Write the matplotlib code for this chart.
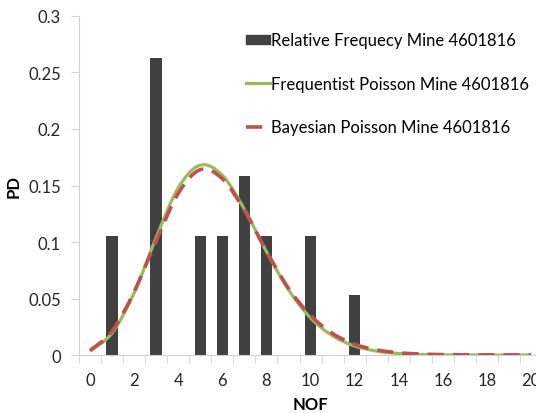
import numpy as np
import matplotlib.pyplot as plt
from matplotlib.path import Path
from matplotlib.patches import PathPatch
from matplotlib.lines import Line2D
from matplotlib.patches import Patch

plt.rcParams['font.family'] = ['Lato', 'DejaVu Sans']

# observed relative frequency
bar_x = [1, 3, 5, 6, 7, 8, 10, 12]
bar_y = [0.105, 0.263, 0.105, 0.105, 0.158, 0.105, 0.105, 0.053]

# fitted curves, read at NOF = 0..20
nof = list(range(21))
freq_pd = [0.0035, 0.0195, 0.055, 0.104, 0.148, 0.168, 0.159, 0.129, 0.0915,
           0.0578, 0.0328, 0.017, 0.008, 0.0035, 0.0014, 0.0005, 0.0002,
           0.0001, 0.0, 0.0, 0.0]
bayes_pd = [0.004, 0.021, 0.056, 0.101, 0.143, 0.164, 0.156, 0.128, 0.092,
            0.059, 0.035, 0.019, 0.0095, 0.0045, 0.002, 0.0009, 0.0004,
            0.0002, 0.0001, 0.0001, 0.0001]


def smooth_path(x, y):
    # excel-style smoothed line: cubic bezier through the points
    x = np.asarray(x, float)
    y = np.asarray(y, float)
    verts = [(x[0], y[0])]
    codes = [Path.MOVETO]
    n = len(x)
    for i in range(n - 1):
        p0 = np.array([x[max(i - 1, 0)], y[max(i - 1, 0)]])
        p1 = np.array([x[i], y[i]])
        p2 = np.array([x[i + 1], y[i + 1]])
        p3 = np.array([x[min(i + 2, n - 1)], y[min(i + 2, n - 1)]])
        c1 = p1 + (p2 - p0) / 6
        c2 = p2 - (p3 - p1) / 6
        verts += [tuple(c1), tuple(c2), tuple(p2)]
        codes += [Path.CURVE4] * 3
    return Path(verts, codes)


fig = plt.figure(figsize=(5.36, 4.14), dpi=100)
ax = fig.add_axes([0.1474, 0.140, 0.864, 0.819])

bar_col = '#404040'
green = '#9BBB59'
red = '#C0504D'

ax.bar(bar_x, bar_y, width=0.52, color=bar_col, zorder=2)

ax.add_patch(PathPatch(smooth_path(nof, freq_pd), fill=False, edgecolor=green,
                       lw=2.3, zorder=3))
ax.add_patch(PathPatch(smooth_path(nof, bayes_pd), fill=False, edgecolor=red,
                       lw=2.6, linestyle=(0, (4.5, 2.5)), zorder=4))

ax.set_xlim(-0.5, 20.5)
ax.set_ylim(0, 0.3)
ax.set_xticks(range(0, 21, 2))
ax.set_xticks(np.arange(-0.5, 20.6, 1), minor=True)
ax.set_yticks([0, 0.05, 0.1, 0.15, 0.2, 0.25, 0.3])
ax.set_yticklabels(['0', '0.05', '0.1', '0.15', '0.2', '0.25', '0.3'])
ax.tick_params(axis='x', which='major', length=0, labelsize=12, pad=12, colors='#262626')
ax.tick_params(axis='x', which='minor', length=6, color='#d0d0d0')
ax.tick_params(axis='y', length=6, color='#d0d0d0', labelsize=12, pad=7,
               labelcolor='#262626')

for s in ['top', 'right']:
    ax.spines[s].set_visible(False)
for s in ['left', 'bottom']:
    ax.spines[s].set_color('#d0d0d0')

ax.set_xlabel('NOF', fontsize=12, fontweight='bold', labelpad=6)
ax.set_ylabel('PD', fontsize=12, fontweight='bold', labelpad=5)

handles = [Patch(facecolor=bar_col, edgecolor=bar_col),
           Line2D([], [], color=green, lw=2.3),
           Line2D([], [], color=red, lw=2.6, linestyle=(0, (4.5, 2.5)))]
labels = ['Relative Frequecy Mine 4601816',
          'Frequentist Poisson Mine 4601816',
          'Bayesian Poisson Mine 4601816']
fig.legend(handles, labels, loc='upper left', bbox_to_anchor=(0.443, 0.94),
           frameon=False, fontsize=12, labelspacing=1.65, handlelength=1.45,
           handleheight=0.5, handletextpad=0.05, borderpad=0)

fig.savefig('out.png', dpi=100)
